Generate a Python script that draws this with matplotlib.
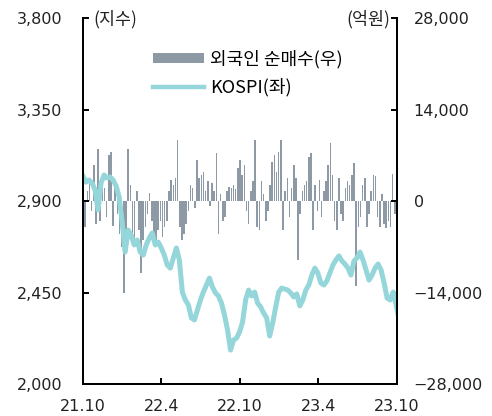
import numpy as np
import pandas as pd
import matplotlib
matplotlib.use("Agg")
import matplotlib.pyplot as plt
from matplotlib.patches import Patch
from matplotlib.lines import Line2D
from matplotlib.ticker import FuncFormatter

plt.rcParams['font.family'] = ['Noto Sans CJK KR', 'DejaVu Sans']

# KOSPI, weekly (Fridays), 2021-10-01 ~ 2023-10-06
kospi_dates = pd.date_range('2021-10-01', periods=106, freq='7D')
kospi = [
    3023, 2993, 3003, 2989, 2954, 2856, 2989, 3028, 3013, 3018,
    3003, 2974, 2920, 2797, 2649, 2757, 2733, 2684, 2708, 2649,
    2634, 2684, 2718, 2743, 2684, 2698, 2669, 2634, 2585, 2570,
    2620, 2669, 2610, 2452, 2413, 2389, 2325, 2315, 2364, 2413,
    2452, 2487, 2521, 2477, 2448, 2433, 2398, 2339, 2266, 2167,
    2216, 2226, 2256, 2305, 2413, 2462, 2433, 2452, 2398, 2379,
    2349, 2325, 2236, 2300, 2379, 2452, 2472, 2467, 2462, 2448,
    2428, 2443, 2384, 2413, 2462, 2487, 2536, 2570, 2546, 2497,
    2487, 2507, 2546, 2585, 2610, 2630, 2605, 2590, 2570, 2536,
    2605, 2620, 2649, 2610, 2561, 2511, 2536, 2570, 2590, 2561,
    2497, 2423, 2413, 2452, 2389, 2315,
]

# foreign net buying (억원), sampled every 5 days
flow_dates = pd.date_range('2021-10-01', periods=147, freq='5D')
foreign_net = [
    -2500, -4000, 1500, 3000, -1500, 5500, -3500, 8000, -3000, 3500,
    2000, -2500, 7000, 7500, -3800, 2000, -2000, -5000, -7000, -14000,
    -6000, 8000, 2500, -5500, -6500, 1500, -4500, -11000, -6000, -4000,
    -2000, 1200, -3000, -5000, -6000, -4500, -3000, -5500, -4000, -3000,
    1500, 3200, 2500, 3500, 9300, -4000, -6000, -5000, -3500, -1500,
    2500, 2000, -1000, 6200, 3500, 4000, 4500, 1500, 3000, -800,
    2800, 1500, 7300, -5000, 1000, -3000, -2500, 1500, 2200, 2000,
    2500, 1800, 5000, 6200, 4000, 5500, -1500, -3500, 1500, 3000,
    9300, -4000, -4400, 3000, 1000, -3000, -1500, 2500, 6000, 7000,
    4500, 7500, 9300, -4400, 1500, 3500, -2500, 2000, 5500, 3500,
    -9000, -2000, 1500, 2500, 3000, 6700, 7300, -4400, 2500, -1500,
    3200, -2500, 1500, 3000, 5500, 8800, 4000, -3000, -4500, 3500,
    -2000, -3000, 2000, 3000, 2500, 4000, 5800, -13000, -4000, -2500,
    2500, 3500, -4000, -2000, 1500, 4000, 3800, -2500, -4000, 1000,
    -3500, -4200, -3000, -4000, 4200, -2000, 1500,
]

tick_dates = pd.to_datetime(['2021-10-01', '2022-04-01', '2022-10-01',
                             '2023-04-01', '2023-10-01'])
tick_labels = ['21.10', '22.4', '22.10', '23.4', '23.10']
left_ticks = [2000, 2450, 2900, 3350, 3800]
right_ticks = [-28000, -14000, 0, 14000, 28000]

bar_color = '#8d9aa5'
line_color = '#94d6da'
text_color = '#222222'

fig = plt.figure(figsize=(4.92, 4.16), dpi=100)
ax = fig.add_axes([0.1687, 0.0769, 0.6382, 0.8798])
ax2 = ax.twinx()

ax2.bar(flow_dates, foreign_net, width=3.6, color=bar_color, linewidth=0)
ax.plot(kospi_dates, kospi, color=line_color, lw=3.6, solid_joinstyle='round')

# line above the bars
ax.set_zorder(ax2.get_zorder() + 1)
ax.patch.set_visible(False)

ax.set_xlim(tick_dates[0], tick_dates[-1])
ax.set_ylim(2000, 3800)
ax2.set_ylim(-28000, 28000)

ax.set_xticks(tick_dates)
ax.set_xticklabels(tick_labels)
ax.set_yticks(left_ticks)
ax2.set_yticks(right_ticks)

ax.yaxis.set_major_formatter(FuncFormatter(lambda v, p: f'{int(v):,}'))
ax2.yaxis.set_major_formatter(
    FuncFormatter(lambda v, p: f'{int(v):,}'.replace('-', '\u2212')))
for lab in ax.get_xticklabels() + ax.get_yticklabels() + ax2.get_yticklabels():
    lab.set_fontfamily('DejaVu Sans')
    lab.set_fontsize(11.5)
    lab.set_color(text_color)

for a in (ax, ax2):
    a.spines['top'].set_visible(False)
    for s in ('left', 'right', 'bottom'):
        a.spines[s].set_linewidth(1.4)
ax.tick_params(axis='both', direction='in', length=4, width=1.4)
ax.tick_params(axis='y', pad=15)
ax.tick_params(axis='x', pad=11)
ax2.tick_params(axis='y', direction='in', length=4, width=1.4, pad=12)

fig.text(0.190, 0.953, '(지수)', fontsize=12.5, va='center', ha='left', color=text_color)
fig.text(0.793, 0.953, '(억원)', fontsize=12.5, va='center', ha='right', color=text_color)

handles = [Patch(facecolor=bar_color, edgecolor='none'),
           Line2D([], [], color=line_color, lw=3.2)]
ax.legend(handles, ['외국인 순매수(우)', 'KOSPI(좌)'], loc='upper left',
          bbox_to_anchor=(0.172, 0.957), frameon=False,
          handlelength=2.8, handleheight=0.45, handletextpad=0.35,
          labelspacing=0.55, prop={'size': 13})

fig.savefig('out.png', dpi=100)
